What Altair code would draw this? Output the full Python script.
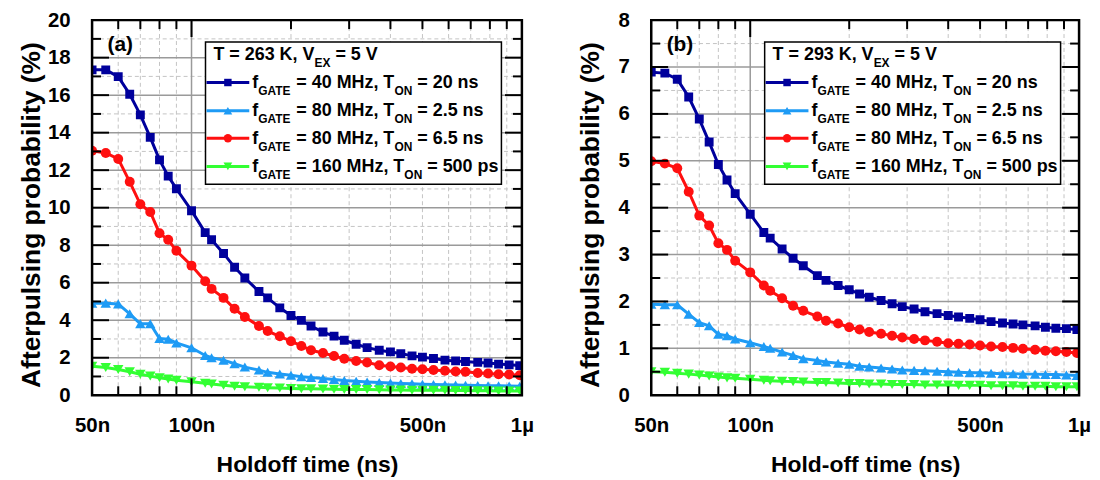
import altair as alt
import pandas as pd

FONT = "Liberation Sans"

# ---------------- data ----------------
holdoff_ns = [50, 55, 60, 65, 70, 75, 80, 85, 90, 100, 110, 115, 125, 135, 145, 160, 170, 185, 200, 215,
              230, 250, 270, 290, 315, 340, 370, 400, 430, 465, 500, 540, 585, 630, 675, 735, 790, 850, 915, 985]

a_40MHz_20ns = [17.35, 17.35, 16.99, 16.05, 14.95, 13.75, 12.55, 11.68, 11.01, 9.84, 8.67, 8.29, 7.56, 6.82, 6.25,
                5.53, 5.19, 4.66, 4.25, 3.99, 3.69, 3.37, 3.15, 2.93, 2.72, 2.54, 2.40, 2.31, 2.22, 2.10, 2.03,
                1.96, 1.87, 1.83, 1.80, 1.75, 1.72, 1.66, 1.62, 1.58]
a_80MHz_2p5ns = [4.91, 4.91, 4.87, 4.34, 3.81, 3.81, 3.02, 2.98, 2.79, 2.53, 2.12, 2.00, 1.87, 1.68, 1.50, 1.34,
                 1.22, 1.13, 1.07, 0.99, 0.95, 0.89, 0.84, 0.79, 0.75, 0.71, 0.68, 0.65, 0.63, 0.61, 0.59, 0.57,
                 0.56, 0.54, 0.53, 0.52, 0.51, 0.50, 0.49, 0.48]
a_80MHz_6p5ns = [13.04, 12.92, 12.60, 11.38, 10.18, 9.77, 8.64, 8.29, 7.70, 6.91, 6.08, 5.67, 5.19, 4.61, 4.17,
                 3.69, 3.42, 3.14, 2.88, 2.63, 2.40, 2.25, 2.09, 1.94, 1.83, 1.75, 1.60, 1.53, 1.48, 1.41, 1.38,
                 1.34, 1.30, 1.27, 1.25, 1.19, 1.16, 1.12, 1.10, 1.07]
a_160MHz_500ps = [1.55, 1.48, 1.37, 1.25, 1.12, 1.02, 0.93, 0.86, 0.80, 0.72, 0.64, 0.60, 0.53, 0.48, 0.45, 0.42,
                  0.40, 0.38, 0.36, 0.35, 0.34, 0.33, 0.32, 0.31, 0.30, 0.30, 0.29, 0.28, 0.28, 0.27, 0.27, 0.26,
                  0.26, 0.25, 0.25, 0.24, 0.24, 0.23, 0.23, 0.22]

b_40MHz_20ns = [6.89, 6.87, 6.74, 6.36, 5.89, 5.40, 4.92, 4.59, 4.30, 3.86, 3.47, 3.35, 3.12, 2.92, 2.76, 2.55,
                2.45, 2.34, 2.25, 2.16, 2.09, 2.02, 1.95, 1.89, 1.84, 1.78, 1.74, 1.70, 1.67, 1.64, 1.61, 1.57,
                1.54, 1.52, 1.50, 1.48, 1.45, 1.43, 1.42, 1.40]
b_80MHz_2p5ns = [1.94, 1.93, 1.93, 1.73, 1.55, 1.48, 1.30, 1.27, 1.20, 1.12, 1.04, 1.00, 0.92, 0.85, 0.78, 0.74,
                 0.71, 0.68, 0.66, 0.62, 0.60, 0.58, 0.56, 0.54, 0.53, 0.52, 0.51, 0.50, 0.49, 0.48, 0.48, 0.47,
                 0.46, 0.46, 0.45, 0.45, 0.44, 0.44, 0.43, 0.42]
b_80MHz_6p5ns = [4.99, 4.94, 4.84, 4.34, 3.83, 3.62, 3.24, 3.10, 2.87, 2.62, 2.34, 2.23, 2.07, 1.91, 1.80, 1.68,
                 1.59, 1.53, 1.45, 1.40, 1.35, 1.31, 1.27, 1.23, 1.20, 1.17, 1.14, 1.11, 1.10, 1.08, 1.06, 1.04,
                 1.03, 1.01, 0.99, 0.97, 0.95, 0.94, 0.92, 0.90]
b_160MHz_500ps = [0.50, 0.49, 0.47, 0.45, 0.43, 0.41, 0.39, 0.37, 0.36, 0.34, 0.32, 0.31, 0.30, 0.29, 0.28, 0.27,
                  0.27, 0.26, 0.25, 0.25, 0.24, 0.24, 0.23, 0.23, 0.23, 0.22, 0.22, 0.22, 0.21, 0.21, 0.21, 0.20,
                  0.20, 0.20, 0.19, 0.19, 0.19, 0.18, 0.18, 0.18]

series_gate = ["40", "80", "80", "160"]
series_ton = ["20 ns", "2.5 ns", "6.5 ns", "500 ps"]
series_color = ["#00009C", "#1E9BF5", "#FF1010", "#33FF33"]
series_shape = ["square", "triangle-up", "circle", "triangle-down"]
series_size = [80, 110, 100, 110]
draw_order = [0, 1, 2, 3]

x_tick_values = [50, 100, 500, 1000]
x_major = [100]
x_minor = [60, 70, 80, 90, 200, 300, 400, 500, 600, 700, 800, 900]

# ---------------- helpers ----------------
CW = {' ': 278, 'f': 333, '=': 584, 'M': 833, 'H': 722, 'z': 500, ',': 278, 'T': 611, '.': 278,
      'n': 611, 's': 556, 'p': 611, 'K': 722, 'V': 667, 'G': 778, 'A': 722, 'E': 667, 'O': 778,
      'N': 722, 'X': 667}
for d in "0123456789":
    CW[d] = 556


def tw(s, fs):
    return sum(CW.get(c, 600) for c in s) * fs / 1000.0


ONE = pd.DataFrame({"k": [0]})
MAIN_FS, SUB_FS = 18, 12


def text_run(segs, x0, yc):
    layers = []
    x = x0
    for s, sub in segs:
        fs = SUB_FS if sub else MAIN_FS
        lead = len(s) - len(s.lstrip(" "))
        body = s.strip(" ")
        xx = x + tw(" " * lead, fs)
        dy = 12.5 if sub else 5.8
        layers.append(
            alt.Chart(ONE).mark_text(text=body, font=FONT, fontWeight="bold", fontSize=fs,
                                     align="left", baseline="alphabetic", color="black")
            .encode(x=alt.value(xx), y=alt.value(yc + dy))
        )
        x += tw(s, fs)
    return layers, x - x0


def panel(letter, temp, values, ymax, ymajor, yminor, W, H, xtitle, ytitle_pad):
    xs = alt.Scale(type="log", domain=[50, 1000], nice=False)
    ys = alt.Scale(domain=[0, ymax], nice=False)
    xaxis = alt.Axis(values=x_tick_values,
                     labelExpr="datum.value >= 1000 ? '1µ' : datum.value + 'n'",
                     title=xtitle, grid=False, ticks=False, tickSize=0, domain=False,
                     labelFlush=False, labelFontSize=20.5, labelFontWeight="bold", labelColor="black",
                     labelPadding=20, titleFontSize=23, titleFontWeight="bold", titleColor="black",
                     titlePadding=18, labelFont=FONT, titleFont=FONT)
    yaxis = alt.Axis(values=ymajor, format="d", title="Afterpulsing probability (%)", grid=False,
                     ticks=False, tickSize=0, domain=False, labelFontSize=20.5, labelFontWeight="bold",
                     labelColor="black", labelPadding=22, titleFontSize=26.5, titleFontWeight="bold",
                     titleColor="black", titlePadding=ytitle_pad, titleY=H / 2 + 7,
                     labelFont=FONT, titleFont=FONT)
    X = lambda f: alt.X(f, scale=xs, axis=xaxis)
    Y = lambda f: alt.Y(f, scale=ys, axis=yaxis)

    layers = []
    # grid
    layers.append(alt.Chart(pd.DataFrame({"v": x_minor})).mark_rule(color="#C4C4C4", strokeWidth=1,
                  strokeDash=[4, 3]).encode(x=X("v:Q")))
    layers.append(alt.Chart(pd.DataFrame({"v": yminor})).mark_rule(color="#C4C4C4", strokeWidth=1,
                  strokeDash=[4, 3]).encode(y=Y("v:Q")))
    layers.append(alt.Chart(pd.DataFrame({"v": x_major})).mark_rule(color="#9A9A9A", strokeWidth=1.5)
                  .encode(x=X("v:Q")))
    layers.append(alt.Chart(pd.DataFrame({"v": [v for v in ymajor if 0 < v < ymax]}))
                  .mark_rule(color="#9A9A9A", strokeWidth=1.5).encode(y=Y("v:Q")))
    # data
    for i in draw_order:
        df = pd.DataFrame({"ns": holdoff_ns, "val": values[i]})
        layers.append(alt.Chart(df).mark_line(color=series_color[i], strokeWidth=3, clip=True)
                      .encode(x=X("ns:Q"), y=Y("val:Q")))
        layers.append(alt.Chart(df).mark_point(shape=series_shape[i], size=series_size[i], filled=True,
                                               opacity=1, color=series_color[i], clip=True)
                      .encode(x=X("ns:Q"), y=Y("val:Q")))
    # inward ticks
    LMAJ, LMIN = 17, 9
    for vals, L in ((x_major, LMAJ), (x_minor, LMIN)):
        d = pd.DataFrame({"v": vals})
        layers.append(alt.Chart(d).mark_rule(color="black", strokeWidth=2)
                      .encode(x=X("v:Q"), y=alt.value(H), y2=alt.value(H - L)))
        layers.append(alt.Chart(d).mark_rule(color="black", strokeWidth=2)
                      .encode(x=X("v:Q"), y=alt.value(0), y2=alt.value(L)))
    for vals, L in (([v for v in ymajor if 0 < v < ymax], LMAJ), (yminor, LMIN)):
        d = pd.DataFrame({"v": vals})
        layers.append(alt.Chart(d).mark_rule(color="black", strokeWidth=2)
                      .encode(y=Y("v:Q"), x=alt.value(0), x2=alt.value(L)))
        layers.append(alt.Chart(d).mark_rule(color="black", strokeWidth=2)
                      .encode(y=Y("v:Q"), x=alt.value(W), x2=alt.value(W - L)))
    # frame
    layers.append(alt.Chart(ONE).mark_rect(fill=None, fillOpacity=0, stroke="black", strokeWidth=2.5)
                  .encode(x=alt.value(0), x2=alt.value(W), y=alt.value(0), y2=alt.value(H)))
    # panel letter
    layers.append(alt.Chart(ONE).mark_text(text=f"({letter})", font=FONT, fontWeight="bold", fontSize=21,
                                           align="left", baseline="middle", color="black")
                  .encode(x=alt.value(15.5), y=alt.value(25)))
    # legend
    bx0, by0, by1 = 114, 22, 165
    title_layers, _ = text_run([(f"T = {temp} K, V", False), ("EX", True), (" = 5 V", False)],
                               bx0 + 8, 34.5)
    entry_y = [62.7, 91, 118.7, 147]
    entry_layers = []
    maxw = 0
    for i in range(4):
        yc = entry_y[i]
        entry_layers.append(alt.Chart(ONE).mark_rule(color=series_color[i], strokeWidth=3)
                            .encode(x=alt.value(bx0 + 1), x2=alt.value(bx0 + 44), y=alt.value(yc)))
        entry_layers.append(alt.Chart(ONE).mark_point(shape=series_shape[i], size=series_size[i] * 0.7,
                                                      filled=True, opacity=1, color=series_color[i])
                            .encode(x=alt.value(bx0 + 22.5), y=alt.value(yc)))
        segs = [("f", False), ("GATE", True), (f" = {series_gate[i]} MHz, T", False), ("ON", True),
                (f" = {series_ton[i]}", False)]
        tl, w = text_run(segs, bx0 + 47, yc)
        maxw = max(maxw, w)
        entry_layers += tl
    bx1 = bx0 + 47 + maxw + 3
    layers.append(alt.Chart(ONE).mark_rect(fill="white", stroke="black", strokeWidth=1.5)
                  .encode(x=alt.value(bx0), x2=alt.value(bx1), y=alt.value(by0), y2=alt.value(by1)))
    layers += title_layers + entry_layers
    return alt.layer(*layers).properties(width=W, height=H)


pa = panel("a", 263, [a_40MHz_20ns, a_80MHz_2p5ns, a_80MHz_6p5ns, a_160MHz_500ps], 20,
           list(range(0, 21, 2)), list(range(1, 20, 2)), 432, 377, "Holdoff time (ns)", 2)
pb = panel("b", 293, [b_40MHz_20ns, b_80MHz_2p5ns, b_80MHz_6p5ns, b_160MHz_500ps], 8,
           list(range(0, 9)), [0.5 + k for k in range(8)], 430, 377, "Hold-off time (ns)", 14)

chart = (alt.hconcat(pa, pb, spacing=42, padding={"left": 9.5, "top": 0, "right": 0, "bottom": 0})
         .configure_view(stroke=None)
         .configure(font=FONT))

chart.save("out.html", embed_options={"renderer": "svg", "actions": False})
